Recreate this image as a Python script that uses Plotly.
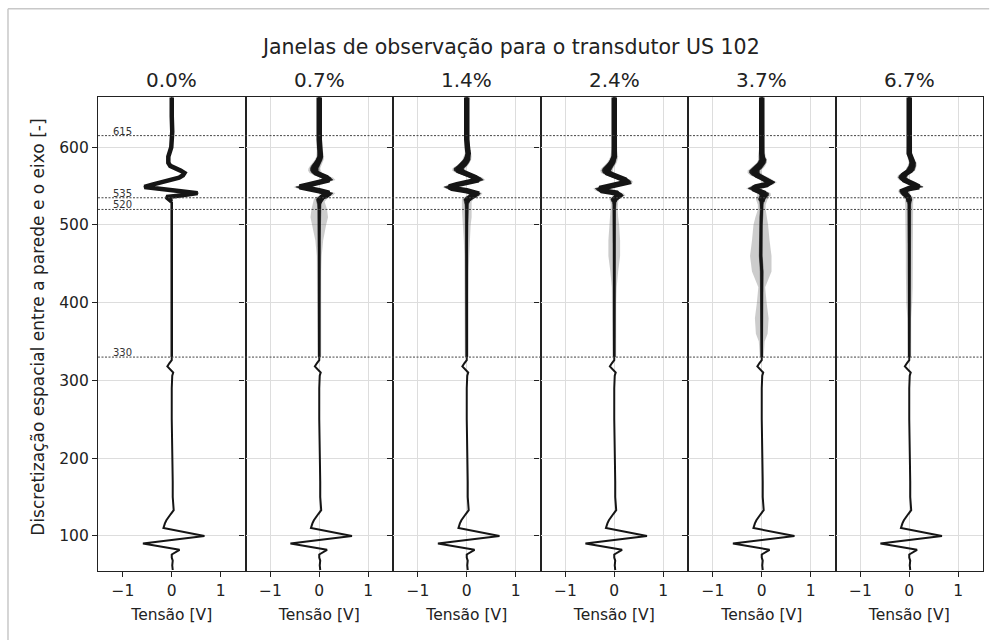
import numpy as np
import plotly.graph_objects as go
from plotly.subplots import make_subplots

TITLE = "Janelas de observação para o transdutor US 102"
PANEL_TITLES = ["0.0%", "0.7%", "1.4%", "2.4%", "3.7%", "6.7%"]
X_TITLE = "Tensão [V]"
Y_TITLE = "Discretização espacial entre a parede e o eixo [-]"
X_TICKS = [-1, 0, 1]
Y_TICKS = [100, 200, 300, 400, 500, 600]
WINDOW_LINES = [615, 535, 520, 330]

# lower (reference) pulse - identical in every panel
Y_LOW = [56, 62, 68, 72, 76, 79, 82, 90, 99.7, 110, 113, 116, 120, 124, 128,
         133, 140, 150, 170, 200, 250, 290, 300, 306, 310, 314, 318, 322, 326]
V_LOW = [0.02, 0.01, 0.02, 0.0, 0.0, 0.08, 0.16, -0.59, 0.67, -0.17, -0.16, -0.14, -0.11, -0.07, -0.02,
         0.04, 0.03, 0.02, 0.02, 0.01, 0.0, 0.0, 0.0, 0.01, 0.03, -0.04, -0.09, -0.05, 0.0]

# upper part (observation windows), per panel
Y_UP = [330, 350, 360, 380, 400, 420, 440, 460, 480, 500, 510, 520, 526,
        530, 533, 536, 538, 541, 544, 547, 549, 552, 555, 558, 561,
        564, 567, 570, 573, 576, 580, 584, 588, 592, 596, 600, 610, 620, 640, 664]
N_QUIET = 13  # first knots of Y_UP belong to the quiet zone below the pulse

C_00 = [0, 0, 0, 0, 0, 0, 0, 0, 0, 0, 0, 0, 0,
        0.0, -0.06, -0.11, 0.18, 0.53, 0.1, -0.29, -0.56, -0.4, -0.2, 0.0, 0.15,
        0.23, 0.26, 0.18, 0.05, -0.03, -0.07, -0.08, -0.07, -0.05, -0.03, -0.01, 0.0, 0.01, 0.0, 0.0]
C_07 = [0, 0, 0, 0, 0, 0, 0, 0, 0, 0, 0, 0, 0,
        0.0, 0.02, 0.06, 0.15, 0.2, 0.0, -0.32, -0.4, -0.2, 0.05, 0.2, 0.15,
        0.02, -0.07, -0.1, -0.1, -0.08, -0.04, 0.0, 0.02, 0.02, 0.01, 0.0, 0.0, 0.0, 0.0, 0.0]
C_14 = [0, 0, 0, 0, 0, 0, 0, 0, 0, 0, 0, 0, 0,
        0.0, 0.02, 0.08, 0.15, 0.18, 0.0, -0.3, -0.36, -0.2, 0.1, 0.24, 0.18,
        0.05, -0.08, -0.16, -0.16, -0.1, -0.04, 0.0, 0.02, 0.03, 0.02, 0.01, 0.0, 0.0, 0.0, 0.0]
C_24 = [0, 0, 0, 0, 0, 0, 0, 0, 0, 0, 0, 0, 0,
        0.0, 0.0, 0.06, 0.1, 0.05, -0.25, -0.3, -0.15, 0.1, 0.26, 0.22, 0.08,
        -0.05, -0.14, -0.16, -0.14, -0.1, -0.05, -0.02, 0.0, 0.0, 0.0, 0.0, 0.0, 0.0, 0.0, 0.0]
C_37 = [0, 0, 0, 0, 0, 0, 0, -0.02, -0.02, -0.02, -0.01, 0, 0,
        0.0, 0.0, 0.02, 0.05, 0.04, -0.08, -0.18, -0.12, 0.1, 0.17, 0.1, 0.0,
        -0.1, -0.15, -0.15, -0.1, -0.05, 0.0, 0.02, 0.0, 0.0, 0.0, 0.0, 0.0, 0.0, 0.0, 0.0]
C_67 = [0, 0, 0, 0, 0, 0, 0, 0, 0, 0, 0, 0, 0,
        0.0, 0.0, -0.02, -0.06, -0.1, -0.12, 0.0, 0.2, 0.1, -0.02, -0.1, -0.14,
        -0.12, -0.06, 0.02, 0.04, 0.06, 0.07, 0.05, 0.02, 0.0, 0.0, 0.0, 0.0, 0.0, 0.0, 0.0]

# dense core spread (half width, V)
K_00 = [0.005, 0.005, 0.005, 0.005, 0.005, 0.005, 0.005, 0.005, 0.005, 0.005, 0.005, 0.005, 0.005,
        0.01, 0.02, 0.02, 0.02, 0.02, 0.02, 0.02, 0.02, 0.02, 0.02, 0.02, 0.02,
        0.02, 0.02, 0.02, 0.02, 0.02, 0.02, 0.02, 0.02, 0.02, 0.015, 0.015, 0.01, 0.01, 0.01, 0.01]
K_07 = [0.015, 0.015, 0.015, 0.015, 0.015, 0.015, 0.015, 0.015, 0.02, 0.025, 0.03, 0.03, 0.035,
        0.05, 0.08, 0.08, 0.08, 0.08, 0.08, 0.08, 0.08, 0.08, 0.08, 0.08, 0.08,
        0.08, 0.08, 0.08, 0.08, 0.08, 0.07, 0.06, 0.05, 0.04, 0.035, 0.03, 0.025, 0.025, 0.025, 0.025]
K_14 = [0.015, 0.015, 0.015, 0.015, 0.015, 0.015, 0.015, 0.015, 0.02, 0.025, 0.03, 0.03, 0.035,
        0.05, 0.08, 0.09, 0.1, 0.1, 0.1, 0.1, 0.1, 0.1, 0.1, 0.1, 0.1,
        0.1, 0.1, 0.1, 0.1, 0.09, 0.08, 0.07, 0.05, 0.04, 0.035, 0.03, 0.025, 0.025, 0.025, 0.025]
K_24 = [0.015, 0.015, 0.015, 0.015, 0.015, 0.015, 0.015, 0.02, 0.025, 0.025, 0.025, 0.025, 0.03,
        0.04, 0.07, 0.08, 0.09, 0.09, 0.09, 0.09, 0.09, 0.09, 0.09, 0.09, 0.09,
        0.09, 0.09, 0.09, 0.09, 0.08, 0.07, 0.06, 0.05, 0.04, 0.035, 0.03, 0.025, 0.025, 0.025, 0.025]
K_37 = [0.015, 0.015, 0.02, 0.025, 0.025, 0.025, 0.03, 0.03, 0.03, 0.03, 0.03, 0.03, 0.03,
        0.04, 0.07, 0.08, 0.09, 0.1, 0.1, 0.1, 0.1, 0.1, 0.1, 0.1, 0.1,
        0.1, 0.1, 0.1, 0.1, 0.09, 0.08, 0.07, 0.05, 0.04, 0.035, 0.03, 0.025, 0.025, 0.025, 0.025]
K_67 = [0.015, 0.015, 0.015, 0.015, 0.02, 0.025, 0.025, 0.025, 0.03, 0.03, 0.03, 0.03, 0.03,
        0.04, 0.05, 0.06, 0.08, 0.08, 0.08, 0.08, 0.08, 0.08, 0.08, 0.08, 0.08,
        0.08, 0.08, 0.08, 0.08, 0.07, 0.06, 0.05, 0.04, 0.035, 0.03, 0.03, 0.025, 0.025, 0.025, 0.025]

# sparse noise spread (half width, V)
O_00 = [0.01, 0.01, 0.01, 0.01, 0.01, 0.01, 0.01, 0.01, 0.01, 0.01, 0.01, 0.01, 0.01,
        0.02, 0.03, 0.03, 0.03, 0.03, 0.03, 0.03, 0.03, 0.03, 0.03, 0.03, 0.03,
        0.03, 0.03, 0.03, 0.03, 0.03, 0.03, 0.03, 0.03, 0.03, 0.02, 0.02, 0.015, 0.015, 0.015, 0.015]
O_07 = [0.04, 0.04, 0.04, 0.04, 0.04, 0.04, 0.04, 0.05, 0.08, 0.14, 0.18, 0.16, 0.13,
        0.11, 0.13, 0.13, 0.13, 0.13, 0.13, 0.13, 0.13, 0.13, 0.13, 0.13, 0.13,
        0.13, 0.13, 0.13, 0.12, 0.11, 0.1, 0.09, 0.08, 0.07, 0.06, 0.06, 0.05, 0.05, 0.05, 0.05]
O_14 = [0.04, 0.04, 0.04, 0.04, 0.04, 0.04, 0.04, 0.05, 0.06, 0.08, 0.1, 0.1, 0.1,
        0.1, 0.12, 0.13, 0.14, 0.14, 0.14, 0.14, 0.14, 0.14, 0.14, 0.14, 0.14,
        0.14, 0.14, 0.14, 0.13, 0.12, 0.1, 0.09, 0.08, 0.07, 0.06, 0.06, 0.05, 0.05, 0.05, 0.05]
O_24 = [0.04, 0.04, 0.04, 0.04, 0.04, 0.05, 0.08, 0.12, 0.12, 0.1, 0.08, 0.07, 0.07,
        0.08, 0.1, 0.12, 0.13, 0.13, 0.13, 0.13, 0.13, 0.13, 0.13, 0.13, 0.13,
        0.13, 0.13, 0.13, 0.12, 0.11, 0.1, 0.09, 0.08, 0.07, 0.06, 0.05, 0.05, 0.05, 0.05, 0.05]
O_37 = [0.04, 0.06, 0.12, 0.14, 0.1, 0.07, 0.2, 0.22, 0.18, 0.15, 0.12, 0.08, 0.08,
        0.1, 0.12, 0.13, 0.14, 0.14, 0.14, 0.14, 0.14, 0.14, 0.14, 0.14, 0.14,
        0.14, 0.14, 0.14, 0.13, 0.12, 0.1, 0.09, 0.08, 0.07, 0.06, 0.05, 0.05, 0.05, 0.05, 0.05]
O_67 = [0.04, 0.04, 0.04, 0.04, 0.06, 0.07, 0.07, 0.07, 0.08, 0.08, 0.08, 0.08, 0.08,
        0.08, 0.09, 0.1, 0.1, 0.11, 0.11, 0.11, 0.11, 0.11, 0.11, 0.11, 0.11,
        0.11, 0.11, 0.1, 0.1, 0.09, 0.08, 0.07, 0.06, 0.06, 0.05, 0.05, 0.05, 0.05, 0.05, 0.05]

CENTERS = [C_00, C_07, C_14, C_24, C_37, C_67]
CORES = [K_00, K_07, K_14, K_24, K_37, K_67]
NOISES = [O_00, O_07, O_14, O_24, O_37, O_67]

FONT = "DejaVu Sans"
INK = "#151515"

fig = make_subplots(rows=1, cols=6, shared_yaxes=True, horizontal_spacing=0)

y_up = np.array(Y_UP, dtype=float)
for i in range(6):
    col = i + 1
    c = np.array(CENTERS[i], dtype=float)
    k = np.array(CORES[i], dtype=float)
    o = np.array(NOISES[i], dtype=float)
    band_y = np.concatenate([y_up, y_up[::-1]])
    fig.add_trace(go.Scatter(
        x=np.concatenate([c - o, (c + o)[::-1]]), y=band_y, mode="lines",
        fill="toself", fillcolor="rgba(95,95,95,0.32)",
        line=dict(width=0), hoverinfo="skip", showlegend=False), row=1, col=col)
    fig.add_trace(go.Scatter(
        x=np.concatenate([c - k, (c + k)[::-1]]), y=band_y, mode="lines",
        fill="toself", fillcolor="rgba(20,20,20,0.95)",
        line=dict(width=0.5, color="rgba(20,20,20,0.95)"),
        hoverinfo="skip", showlegend=False), row=1, col=col)
    fig.add_trace(go.Scatter(
        x=list(V_LOW) + [c[0]], y=list(Y_LOW) + [Y_UP[0]], mode="lines",
        line=dict(width=2, color=INK), hoverinfo="skip", showlegend=False), row=1, col=col)
    fig.add_trace(go.Scatter(
        x=c[:N_QUIET + 1], y=y_up[:N_QUIET + 1], mode="lines",
        line=dict(width=2.5, color=INK), hoverinfo="skip", showlegend=False), row=1, col=col)
    fig.add_trace(go.Scatter(
        x=c[N_QUIET:], y=y_up[N_QUIET:], mode="lines",
        line=dict(width=4.5 if i == 0 else 5.5, color=INK),
        hoverinfo="skip", showlegend=False), row=1, col=col)

for i in range(6):
    fig.update_xaxes(
        range=[-1.51, 1.51], tickvals=X_TICKS, ticks="outside", ticklen=5, tickwidth=1,
        tickcolor="#222", showline=True, mirror=True, linecolor="#222", linewidth=1.2,
        showgrid=(i > 0), gridcolor="#dddddd", gridwidth=1, zeroline=False,
        tickfont=dict(family=FONT, size=15.5, color="#222"),
        title=dict(text=X_TITLE, font=dict(family=FONT, size=15.5, color="#222"), standoff=10),
        row=1, col=i + 1)
fig.update_yaxes(
    range=[54.7, 664.7], tickvals=Y_TICKS, ticks="outside", ticklen=5, tickwidth=1,
    tickcolor="#222", showline=True, mirror=True, linecolor="#222", linewidth=1.2,
    showgrid=True, gridcolor="#dddddd", gridwidth=1.2, zeroline=False,
    tickfont=dict(family=FONT, size=15.5, color="#222"))

for v in WINDOW_LINES:
    fig.add_shape(type="line", xref="paper", x0=0, x1=1, yref="y", y0=v, y1=v,
                  line=dict(color="#444", width=1, dash="2px,1.5px"), layer="above")
    fig.add_annotation(xref="x", yref="y", x=-1.22, y=v, text=str(v), showarrow=False,
                       xanchor="left", yanchor="bottom", yshift=-2, borderpad=0,
                       font=dict(family=FONT, size=10, color="#333"))

for i, t in enumerate(PANEL_TITLES):
    dom = fig.layout["xaxis" if i == 0 else f"xaxis{i + 1}"].domain
    fig.add_annotation(xref="paper", yref="paper", x=(dom[0] + dom[1]) / 2, y=1, text=t,
                       showarrow=False, xanchor="center", yanchor="bottom", yshift=3,
                       font=dict(family=FONT, size=20, color="#222"))

fig.add_annotation(xref="paper", yref="paper", x=0.466, y=1.106, text=TITLE, showarrow=False,
                   xanchor="center", yanchor="middle", font=dict(family=FONT, size=20.5, color="#222"))
fig.add_annotation(xref="paper", yref="paper", x=-0.068, y=0.515, text=Y_TITLE, showarrow=False,
                   textangle=-90, xanchor="center", yanchor="middle",
                   font=dict(family=FONT, size=17, color="#222"))

# light outer frame of the figure
fig.add_shape(type="line", xref="paper", yref="paper", x0=-0.1017, x1=-0.1017, y0=-0.2, y1=1.1864,
              line=dict(color="#c8c8c8", width=1.5))
fig.add_shape(type="line", xref="paper", yref="paper", x0=-0.1017, x1=1.007, y0=1.1864, y1=1.1864,
              line=dict(color="#c8c8c8", width=1.5))

fig.update_layout(
    width=997, height=640, margin=dict(l=98, r=14, t=97, b=69),
    paper_bgcolor="white", plot_bgcolor="white", showlegend=False,
    font=dict(family=FONT, color="#222"))

fig.write_html("out.html", config={"displayModeBar": False},
               post_script="document.body.style.margin='0px';")
